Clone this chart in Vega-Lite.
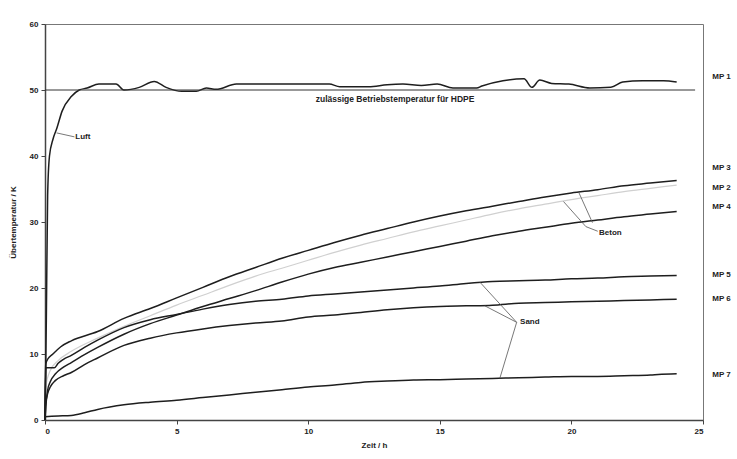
{
  "$schema": "https://vega.github.io/schema/vega-lite/v6.json",
  "width": 658,
  "height": 396,
  "autosize": "none",
  "padding": {"left": 45, "top": 24, "right": 34, "bottom": 39},
  "background": "white",
  "datasets": {
    "curves": [
      {"s":"MP 1","t":0,"v":0},{"s":"MP 1","t":0.05,"v":15},{"s":"MP 1","t":0.1,"v":34},{"s":"MP 1","t":0.17,"v":40},{"s":"MP 1","t":0.3,"v":42.5},{"s":"MP 1","t":0.45,"v":44.2},{"s":"MP 1","t":0.65,"v":46.8},{"s":"MP 1","t":1.0,"v":49.0},{"s":"MP 1","t":1.3,"v":50.0},{"s":"MP 1","t":1.6,"v":50.3},{"s":"MP 1","t":2.05,"v":50.9},{"s":"MP 1","t":2.7,"v":50.9},{"s":"MP 1","t":3.0,"v":50.0},{"s":"MP 1","t":3.58,"v":50.4},{"s":"MP 1","t":4.15,"v":51.3},{"s":"MP 1","t":4.6,"v":50.4},{"s":"MP 1","t":5.2,"v":49.8},{"s":"MP 1","t":5.75,"v":49.8},{"s":"MP 1","t":6.13,"v":50.3},{"s":"MP 1","t":6.5,"v":50.1},{"s":"MP 1","t":7.27,"v":50.9},{"s":"MP 1","t":9.0,"v":50.9},{"s":"MP 1","t":10.8,"v":50.9},{"s":"MP 1","t":11.2,"v":50.5},{"s":"MP 1","t":12.3,"v":50.5},{"s":"MP 1","t":13.0,"v":50.8},{"s":"MP 1","t":13.6,"v":50.9},{"s":"MP 1","t":14.3,"v":50.7},{"s":"MP 1","t":14.9,"v":50.9},{"s":"MP 1","t":15.5,"v":50.3},{"s":"MP 1","t":16.4,"v":50.3},{"s":"MP 1","t":16.6,"v":50.6},{"s":"MP 1","t":17.4,"v":51.4},{"s":"MP 1","t":18.2,"v":51.7},{"s":"MP 1","t":18.5,"v":50.4},{"s":"MP 1","t":18.8,"v":51.5},{"s":"MP 1","t":19.25,"v":51.0},{"s":"MP 1","t":19.9,"v":50.9},{"s":"MP 1","t":20.7,"v":50.3},{"s":"MP 1","t":21.5,"v":50.4},{"s":"MP 1","t":21.95,"v":51.2},{"s":"MP 1","t":22.7,"v":51.4},{"s":"MP 1","t":23.5,"v":51.4},{"s":"MP 1","t":24.0,"v":51.2},

      {"s":"MP 3","t":0,"v":0},{"s":"MP 3","t":0.03,"v":8.5},{"s":"MP 3","t":0.1,"v":9.2},{"s":"MP 3","t":0.3,"v":10.0},{"s":"MP 3","t":0.6,"v":11.1},{"s":"MP 3","t":1,"v":12.0},{"s":"MP 3","t":2,"v":13.4},{"s":"MP 3","t":3,"v":15.4},{"s":"MP 3","t":4,"v":16.9},{"s":"MP 3","t":5,"v":18.5},{"s":"MP 3","t":6,"v":20.1},{"s":"MP 3","t":7,"v":21.7},{"s":"MP 3","t":8,"v":23.1},{"s":"MP 3","t":9,"v":24.5},{"s":"MP 3","t":10,"v":25.7},{"s":"MP 3","t":11,"v":26.9},{"s":"MP 3","t":12,"v":28.0},{"s":"MP 3","t":13,"v":29.0},{"s":"MP 3","t":14,"v":30.0},{"s":"MP 3","t":15,"v":30.9},{"s":"MP 3","t":16,"v":31.7},{"s":"MP 3","t":17,"v":32.4},{"s":"MP 3","t":18,"v":33.1},{"s":"MP 3","t":19,"v":33.8},{"s":"MP 3","t":20,"v":34.4},{"s":"MP 3","t":21,"v":34.9},{"s":"MP 3","t":22,"v":35.5},{"s":"MP 3","t":23,"v":35.9},{"s":"MP 3","t":24,"v":36.3},

      {"s":"MP 4","t":0,"v":0},{"s":"MP 4","t":0.03,"v":2},{"s":"MP 4","t":0.1,"v":4.5},{"s":"MP 4","t":0.2,"v":5.8},{"s":"MP 4","t":0.4,"v":7.0},{"s":"MP 4","t":0.7,"v":8.0},{"s":"MP 4","t":1,"v":8.7},{"s":"MP 4","t":1.5,"v":9.9},{"s":"MP 4","t":2,"v":11.0},{"s":"MP 4","t":3,"v":13.0},{"s":"MP 4","t":4,"v":14.6},{"s":"MP 4","t":5,"v":15.9},{"s":"MP 4","t":6,"v":17.2},{"s":"MP 4","t":7,"v":18.4},{"s":"MP 4","t":8,"v":19.6},{"s":"MP 4","t":9,"v":20.9},{"s":"MP 4","t":10,"v":22.1},{"s":"MP 4","t":11,"v":23.1},{"s":"MP 4","t":12,"v":23.9},{"s":"MP 4","t":13,"v":24.7},{"s":"MP 4","t":14,"v":25.5},{"s":"MP 4","t":15,"v":26.3},{"s":"MP 4","t":16,"v":27.1},{"s":"MP 4","t":17,"v":27.9},{"s":"MP 4","t":18,"v":28.6},{"s":"MP 4","t":19,"v":29.2},{"s":"MP 4","t":20,"v":29.8},{"s":"MP 4","t":21,"v":30.3},{"s":"MP 4","t":22,"v":30.8},{"s":"MP 4","t":23,"v":31.2},{"s":"MP 4","t":24,"v":31.6},

      {"s":"MP 5","t":0,"v":0},{"s":"MP 5","t":0.03,"v":7.9},{"s":"MP 5","t":0.35,"v":7.9},{"s":"MP 5","t":0.5,"v":8.6},{"s":"MP 5","t":0.7,"v":9.2},{"s":"MP 5","t":1,"v":9.8},{"s":"MP 5","t":1.5,"v":11.0},{"s":"MP 5","t":2,"v":12.1},{"s":"MP 5","t":3,"v":14.0},{"s":"MP 5","t":4,"v":15.2},{"s":"MP 5","t":5,"v":16.0},{"s":"MP 5","t":6,"v":16.8},{"s":"MP 5","t":7,"v":17.5},{"s":"MP 5","t":8,"v":18.0},{"s":"MP 5","t":9,"v":18.3},{"s":"MP 5","t":10,"v":18.8},{"s":"MP 5","t":11,"v":19.1},{"s":"MP 5","t":12,"v":19.4},{"s":"MP 5","t":13,"v":19.7},{"s":"MP 5","t":14,"v":20.0},{"s":"MP 5","t":15,"v":20.3},{"s":"MP 5","t":16,"v":20.7},{"s":"MP 5","t":17,"v":21.0},{"s":"MP 5","t":18,"v":21.1},{"s":"MP 5","t":19,"v":21.2},{"s":"MP 5","t":20,"v":21.4},{"s":"MP 5","t":21,"v":21.5},{"s":"MP 5","t":22,"v":21.7},{"s":"MP 5","t":23,"v":21.8},{"s":"MP 5","t":24,"v":21.9},

      {"s":"MP 6","t":0,"v":0},{"s":"MP 6","t":0.03,"v":2.5},{"s":"MP 6","t":0.1,"v":4.0},{"s":"MP 6","t":0.2,"v":5.0},{"s":"MP 6","t":0.4,"v":6.0},{"s":"MP 6","t":0.7,"v":6.7},{"s":"MP 6","t":1,"v":7.2},{"s":"MP 6","t":1.5,"v":8.4},{"s":"MP 6","t":2,"v":9.4},{"s":"MP 6","t":3,"v":11.3},{"s":"MP 6","t":4,"v":12.4},{"s":"MP 6","t":5,"v":13.2},{"s":"MP 6","t":6,"v":13.8},{"s":"MP 6","t":7,"v":14.3},{"s":"MP 6","t":8,"v":14.7},{"s":"MP 6","t":9,"v":15.0},{"s":"MP 6","t":10,"v":15.6},{"s":"MP 6","t":11,"v":15.9},{"s":"MP 6","t":12,"v":16.3},{"s":"MP 6","t":13,"v":16.7},{"s":"MP 6","t":14,"v":17.0},{"s":"MP 6","t":15,"v":17.2},{"s":"MP 6","t":16,"v":17.3},{"s":"MP 6","t":17,"v":17.4},{"s":"MP 6","t":18,"v":17.7},{"s":"MP 6","t":19,"v":17.8},{"s":"MP 6","t":20,"v":17.9},{"s":"MP 6","t":21,"v":18.0},{"s":"MP 6","t":22,"v":18.1},{"s":"MP 6","t":23,"v":18.2},{"s":"MP 6","t":24,"v":18.3},

      {"s":"MP 7","t":0,"v":0.5},{"s":"MP 7","t":0.5,"v":0.6},{"s":"MP 7","t":1,"v":0.7},{"s":"MP 7","t":1.5,"v":1.1},{"s":"MP 7","t":2,"v":1.6},{"s":"MP 7","t":3,"v":2.3},{"s":"MP 7","t":4,"v":2.7},{"s":"MP 7","t":5,"v":3.0},{"s":"MP 7","t":6,"v":3.4},{"s":"MP 7","t":7,"v":3.8},{"s":"MP 7","t":8,"v":4.2},{"s":"MP 7","t":9,"v":4.6},{"s":"MP 7","t":10,"v":5.0},{"s":"MP 7","t":11,"v":5.3},{"s":"MP 7","t":12,"v":5.7},{"s":"MP 7","t":13,"v":5.9},{"s":"MP 7","t":14,"v":6.05},{"s":"MP 7","t":15,"v":6.1},{"s":"MP 7","t":16,"v":6.2},{"s":"MP 7","t":17,"v":6.3},{"s":"MP 7","t":18,"v":6.4},{"s":"MP 7","t":19,"v":6.5},{"s":"MP 7","t":20,"v":6.6},{"s":"MP 7","t":21,"v":6.6},{"s":"MP 7","t":22,"v":6.7},{"s":"MP 7","t":23,"v":6.8},{"s":"MP 7","t":23.3,"v":6.9},{"s":"MP 7","t":24,"v":7.0}
    ],
    "gray": [
      {"s":"MP 2","t":0,"v":0},{"s":"MP 2","t":0.03,"v":5},{"s":"MP 2","t":0.2,"v":7.5},{"s":"MP 2","t":0.5,"v":9.0},{"s":"MP 2","t":1,"v":10.4},{"s":"MP 2","t":2,"v":12.4},{"s":"MP 2","t":3,"v":14.2},{"s":"MP 2","t":4,"v":15.8},{"s":"MP 2","t":5,"v":17.4},{"s":"MP 2","t":6,"v":18.9},{"s":"MP 2","t":7,"v":20.4},{"s":"MP 2","t":8,"v":21.8},{"s":"MP 2","t":9,"v":23.0},{"s":"MP 2","t":10,"v":24.2},{"s":"MP 2","t":11,"v":25.4},{"s":"MP 2","t":12,"v":26.5},{"s":"MP 2","t":13,"v":27.5},{"s":"MP 2","t":14,"v":28.5},{"s":"MP 2","t":15,"v":29.4},{"s":"MP 2","t":16,"v":30.3},{"s":"MP 2","t":17,"v":31.2},{"s":"MP 2","t":18,"v":32.0},{"s":"MP 2","t":19,"v":32.7},{"s":"MP 2","t":20,"v":33.4},{"s":"MP 2","t":21,"v":34.0},{"s":"MP 2","t":22,"v":34.6},{"s":"MP 2","t":23,"v":35.1},{"s":"MP 2","t":24,"v":35.6}
    ],
    "limit": [{"t":0,"t2":24.7,"v":50,"label":"zulässige Betriebstemperatur für HDPE","lt":13.3,"lv":48.6}],
    "leaders": [
      {"t":0.44,"v":43.5,"t2":1.12,"v2":42.9},
      {"t":20.29,"v":34.4,"t2":20.8,"v2":29.9},
      {"t":19.7,"v":33.1,"t2":20.55,"v2":29.3},
      {"t":20.55,"v":29.3,"t2":21.0,"v2":28.6},
      {"t":16.52,"v":20.9,"t2":17.92,"v2":14.8},
      {"t":16.71,"v":17.3,"t2":17.92,"v2":14.8},
      {"t":17.28,"v":6.3,"t2":17.92,"v2":14.8}
    ],
    "notes": [
      {"t":1.15,"v":42.9,"label":"Luft"},
      {"t":21.05,"v":28.4,"label":"Beton"},
      {"t":18.05,"v":14.8,"label":"Sand"}
    ],
    "ends": [
      {"t":25.35,"v":51.9,"label":"MP 1"},
      {"t":25.35,"v":38.2,"label":"MP 3"},
      {"t":25.35,"v":35.2,"label":"MP 2"},
      {"t":25.35,"v":32.2,"label":"MP 4"},
      {"t":25.35,"v":22.0,"label":"MP 5"},
      {"t":25.35,"v":18.4,"label":"MP 6"},
      {"t":25.35,"v":6.8,"label":"MP 7"}
    ]
  },
  "layer": [
    {
      "data": {"name": "gray"},
      "mark": {"type": "line", "stroke": "#d0d0d0", "strokeWidth": 1.2, "interpolate": "monotone"},
      "encoding": {
        "x": {"field": "t", "type": "quantitative", "scale": {"domain": [0, 25], "nice": false}, "axis": {"values": [0,5,10,15,20,25], "title": "Zeit / h", "titlePadding": 6}},
        "y": {"field": "v", "type": "quantitative", "scale": {"domain": [0, 60], "nice": false}, "axis": {"values": [0,10,20,30,40,50,60], "title": "Übertemperatur / K", "titlePadding": 12}},
        "detail": {"field": "s"}
      }
    },
    {
      "data": {"name": "curves"},
      "mark": {"type": "line", "stroke": "#1e1e1e", "strokeWidth": 1.5, "interpolate": "monotone"},
      "encoding": {
        "x": {"field": "t", "type": "quantitative"},
        "y": {"field": "v", "type": "quantitative"},
        "detail": {"field": "s"}
      }
    },
    {
      "data": {"name": "limit"},
      "mark": {"type": "rule", "stroke": "#333", "strokeWidth": 1},
      "encoding": {
        "x": {"field": "t", "type": "quantitative"},
        "x2": {"field": "t2"},
        "y": {"field": "v", "type": "quantitative"}
      }
    },
    {
      "data": {"name": "limit"},
      "mark": {"type": "text", "font": "Liberation Sans", "fontSize": 8.5, "fontWeight": "bold", "color": "#222", "align": "center", "baseline": "middle"},
      "encoding": {
        "x": {"field": "lt", "type": "quantitative"},
        "y": {"field": "lv", "type": "quantitative"},
        "text": {"field": "label"}
      }
    },
    {
      "data": {"name": "leaders"},
      "mark": {"type": "rule", "stroke": "#555", "strokeWidth": 0.8},
      "encoding": {
        "x": {"field": "t", "type": "quantitative"},
        "y": {"field": "v", "type": "quantitative"},
        "x2": {"field": "t2"},
        "y2": {"field": "v2"}
      }
    },
    {
      "data": {"name": "notes"},
      "mark": {"type": "text", "font": "Liberation Sans", "fontSize": 8, "fontWeight": "bold", "color": "#222", "align": "left", "baseline": "middle"},
      "encoding": {
        "x": {"field": "t", "type": "quantitative"},
        "y": {"field": "v", "type": "quantitative"},
        "text": {"field": "label"}
      }
    },
    {
      "data": {"name": "ends"},
      "mark": {"type": "text", "font": "Liberation Sans", "fontSize": 8, "fontWeight": "bold", "color": "#222", "align": "left", "baseline": "middle"},
      "encoding": {
        "x": {"field": "t", "type": "quantitative"},
        "y": {"field": "v", "type": "quantitative"},
        "text": {"field": "label"}
      }
    }
  ],
  "config": {
    "view": {"stroke": "#777", "strokeWidth": 1},
    "axis": {
      "grid": false,
      "labelFont": "Liberation Sans",
      "titleFont": "Liberation Sans",
      "labelFontSize": 8,
      "titleFontSize": 8,
      "labelFontWeight": "bold",
      "titleFontWeight": "bold",
      "labelColor": "#222",
      "titleColor": "#222",
      "domainColor": "#444",
      "domainWidth": 1.5,
      "tickColor": "#444",
      "tickSize": 4,
      "labelPadding": 3
    }
  }
}
